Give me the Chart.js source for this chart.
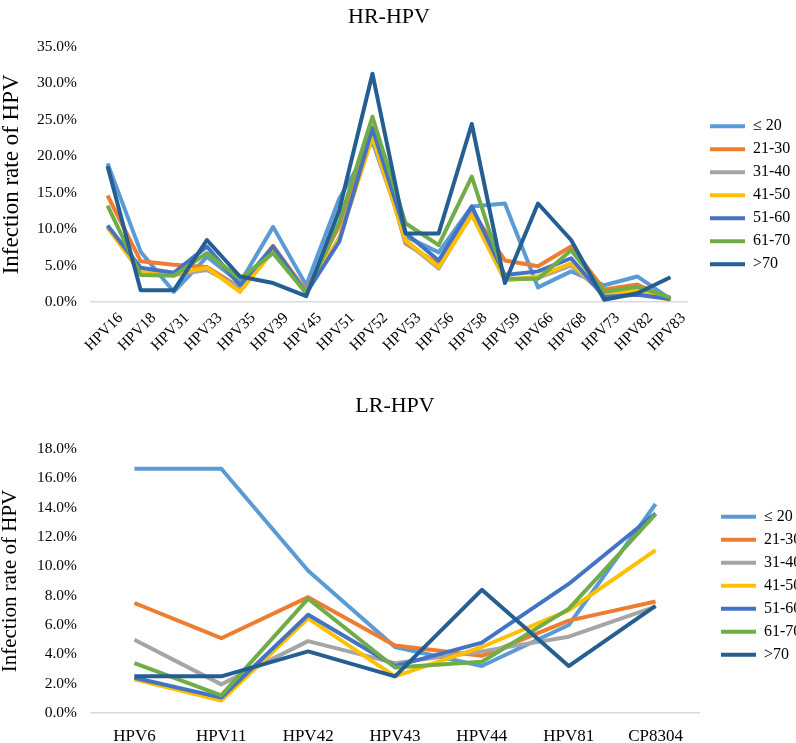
<!DOCTYPE html>
<html lang="en">
<head>
  <meta charset="UTF-8" />
  <title>HPV infection rate by age group</title>
  <script src="https://cdn.jsdelivr.net/npm/chart.js"></script>
  <style>
    body { margin: 0; background: #fff; }
    canvas { display: block; }
  </style>
</head>
<body>
  <canvas id="hrChart" width="796" height="370"></canvas>
  <canvas id="lrChart" width="796" height="373"></canvas>

  <script>
    // age groups and their line colours
    const ageGroups = ["≤ 20", "21-30", "31-40", "41-50", "51-60", "61-70", ">70"];
    const seriesColors = ["#5B9BD5", "#ED7D31", "#A5A5A5", "#FFC000", "#4472C4", "#70AD47", "#255E91"];

    // high-risk types (%)
    const hrTypes = ["HPV16", "HPV18", "HPV31", "HPV33", "HPV35", "HPV39", "HPV45", "HPV51", "HPV52",
                     "HPV53", "HPV56", "HPV58", "HPV59", "HPV66", "HPV68", "HPV73", "HPV82", "HPV83"];
    const hrAge20   = [19.0, 6.9, 1.4, 6.2, 2.6, 10.3, 2.3, 14.2, 22.0, 9.0, 6.8, 13.1, 13.5, 2.0, 4.2, 2.3, 3.5, 0.4];
    const hrAge2130 = [14.6, 5.6, 5.1, 4.8, 2.0, 7.7, 1.5, 10.5, 24.0, 8.0, 5.2, 12.5, 5.7, 4.9, 7.6, 1.7, 2.4, 0.4];
    const hrAge3140 = [10.3, 4.0, 3.7, 4.4, 2.0, 7.2, 1.3, 8.8, 23.0, 8.3, 4.6, 12.2, 3.0, 3.3, 5.0, 1.1, 1.5, 0.4];
    const hrAge4150 = [10.2, 4.1, 3.9, 4.7, 1.4, 7.0, 1.3, 8.7, 22.6, 8.5, 4.8, 11.9, 3.0, 3.5, 5.3, 1.2, 1.6, 0.2];
    const hrAge5160 = [10.5, 4.7, 4.0, 7.6, 2.3, 7.6, 1.2, 8.3, 23.8, 9.5, 5.7, 13.1, 3.7, 4.2, 6.0, 0.7, 1.0, 0.4];
    const hrAge6170 = [13.2, 3.7, 3.6, 6.7, 3.2, 6.7, 1.2, 11.0, 25.4, 10.8, 7.8, 17.2, 3.2, 3.2, 7.1, 1.4, 2.1, 0.6];
    const hrAge70   = [18.6, 1.6, 1.6, 8.5, 3.5, 2.6, 0.8, 12.6, 31.3, 9.4, 9.4, 24.4, 2.6, 13.5, 8.5, 0.3, 1.2, 3.4];

    // low-risk types (%)
    const lrTypes = ["HPV6", "HPV11", "HPV42", "HPV43", "HPV44", "HPV81", "CP8304"];
    const lrAge20   = [16.65, 16.65, 9.7, 4.5, 3.2, 6.0, 14.25];
    const lrAge2130 = [7.5, 5.1, 7.9, 4.6, 3.9, 6.3, 7.6];
    const lrAge3140 = [5.0, 1.95, 4.9, 3.4, 4.2, 5.2, 7.25];
    const lrAge4150 = [2.3, 0.85, 6.45, 2.5, 4.5, 7.0, 11.1];
    const lrAge5160 = [2.4, 1.05, 6.7, 3.2, 4.8, 8.8, 13.6];
    const lrAge6170 = [3.4, 1.2, 7.8, 3.1, 3.5, 7.1, 13.55];
    const lrAge70   = [2.5, 2.5, 4.2, 2.5, 8.4, 3.2, 7.3];

    const serif = "'Liberation Serif', 'Times New Roman', serif";

    function buildChart(canvasId, cfg) {
      const datasets = cfg.series.map((values, i) => ({
        label: ageGroups[i],
        data: values,
        borderColor: seriesColors[i],
        backgroundColor: seriesColors[i],
        borderWidth: 4,
        pointRadius: 0,
        tension: 0,
        fill: false,
        borderJoinStyle: "round",
        // later groups are drawn on top, like the original
        order: cfg.series.length - i
      }));

      return new Chart(document.getElementById(canvasId), {
        type: "line",
        data: { labels: cfg.labels, datasets },
        options: {
          responsive: false,
          animation: false,
          layout: { padding: 0 },
          plugins: {
            title: {
              display: true,
              text: cfg.title,
              fullSize: false,
              color: "#000",
              font: { family: serif, size: 22, weight: "normal" },
              padding: cfg.titlePad
            },
            legend: {
              position: "right",
              maxWidth: cfg.legendWidth,
              title: { display: true, text: " ", font: { size: 12 }, padding: cfg.legendShift },
              labels: {
                usePointStyle: true,
                pointStyle: "line",
                pointStyleWidth: 35,
                padding: 7,
                color: "#000",
                font: { family: serif, size: 16 },
                sort: (a, b) => a.datasetIndex - b.datasetIndex
              }
            },
            tooltip: { enabled: false }
          },
          scales: {
            x: {
              offset: true,
              grid: { display: false, drawTicks: false },
              border: { color: "#d9d9d9", width: 1.5 },
              ticks: {
                color: "#000",
                font: { family: serif, size: cfg.xFont },
                autoSkip: false,
                minRotation: cfg.xRotation,
                maxRotation: cfg.xRotation,
                labelOffset: cfg.xLabelOffset,
                padding: cfg.xPad
              },
              afterFit: s => { s.height = cfg.xHeight; }
            },
            y: {
              min: 0,
              max: cfg.yMax,
              grid: { display: false, drawTicks: false },
              border: { display: false },
              ticks: {
                stepSize: cfg.yStep,
                padding: 14,
                color: "#000",
                font: { family: serif, size: 15.5 },
                callback: v => v.toFixed(1) + "%"
              },
              title: {
                display: true,
                text: "Infection rate of HPV",
                color: "#000",
                font: { family: serif, size: cfg.yTitleSize, lineHeight: 1 },
                padding: 0
              },
              afterFit: s => { s.width = 91; }
            },
            // empty spacer between plot and legend
            gap: {
              type: "linear",
              axis: "y",
              position: "right",
              display: true,
              grid: { display: false, drawTicks: false },
              border: { display: false },
              ticks: { display: false },
              afterFit: s => { s.width = cfg.gapWidth; }
            }
          }
        }
      });
    }

    buildChart("hrChart", {
      title: "HR-HPV",
      labels: hrTypes,
      series: [hrAge20, hrAge2130, hrAge3140, hrAge4150, hrAge5160, hrAge6170, hrAge70],
      yMax: 35,
      yStep: 5,
      yTitleSize: 23,
      titlePad: { top: 3.8, bottom: 16.5 },
      legendWidth: 93,
      legendShift: 3,
      gapWidth: 16,
      xFont: 15.5,
      xRotation: 45,
      xLabelOffset: 13,
      xPad: 7,
      xHeight: 68
    });

    buildChart("lrChart", {
      title: "LR-HPV",
      labels: lrTypes,
      series: [lrAge20, lrAge2130, lrAge3140, lrAge4150, lrAge5160, lrAge6170, lrAge70],
      yMax: 18,
      yStep: 2,
      yTitleSize: 21,
      titlePad: { top: 22.8, bottom: 29.8 },
      legendWidth: 82,
      legendShift: 22,
      gapWidth: 15,
      xFont: 17,
      xRotation: 0,
      xLabelOffset: 0,
      xPad: 13,
      xHeight: 30
    });
  </script>
</body>
</html>
